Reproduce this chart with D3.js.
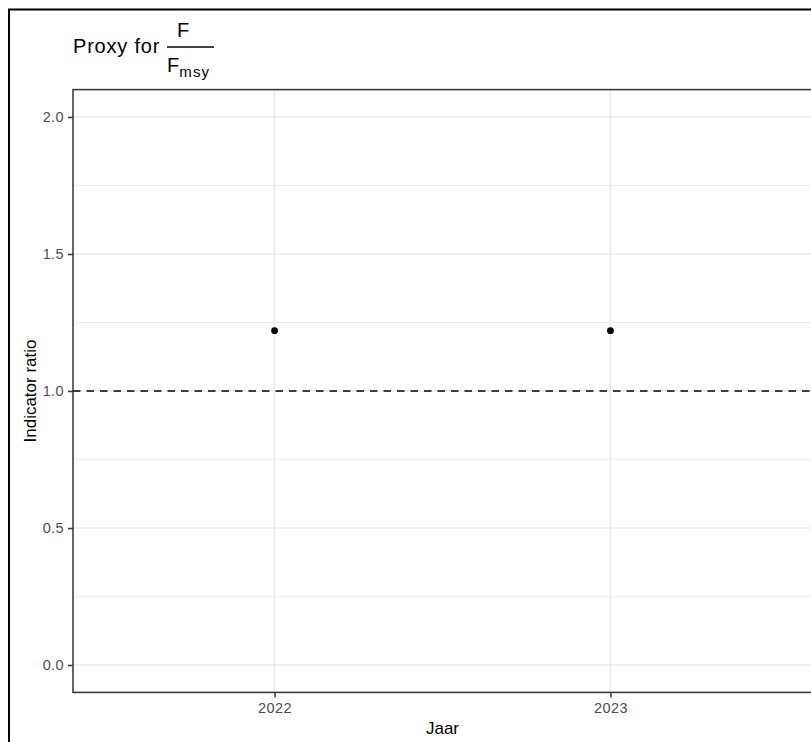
<!DOCTYPE html>
<html>
<head>
<meta charset="utf-8">
<script src="https://cdn.jsdelivr.net/npm/d3@7"></script>
<style>
  html, body { margin: 0; padding: 0; background: #fff; }
  svg { display: block; font-family: "Liberation Sans", Arial, sans-serif; }
</style>
</head>
<body>
<svg id="chart" width="811" height="742"></svg>
<script>
// Indicator series: F / Fmsy proxy per year
const years = ["2022", "2023"];
const ratios = [1.22, 1.22];
const referenceLevel = 1.0;
const yTicks = [0.0, 0.5, 1.0, 1.5, 2.0];
const yMinorTicks = [0.25, 0.75, 1.25, 1.75];
const yDomain = [0, 2];

const svg = d3.select("#chart");

const panel = { left: 73, right: 812, top: 89.6, bottom: 692.4 };

// discrete x scale, 0.6 padding on each side
const x = d3.scalePoint().domain(years).range([panel.left, panel.right]).padding(0.6);

// continuous y scale, 5% expansion either side
const span = yDomain[1] - yDomain[0];
const y = d3.scaleLinear()
  .domain([yDomain[0] - 0.05 * span, yDomain[1] + 0.05 * span])
  .range([panel.bottom, panel.top]);

// outer frame
svg.append("rect")
  .attr("x", 9).attr("y", 9.5).attr("width", 900).attr("height", 900)
  .attr("fill", "none").attr("stroke", "#000").attr("stroke-width", 2);

const g = svg.append("g");

// grid
g.selectAll("line.minor").data(yMinorTicks).join("line")
  .attr("x1", panel.left).attr("x2", panel.right)
  .attr("y1", d => y(d)).attr("y2", d => y(d))
  .attr("stroke", "#ebebeb").attr("stroke-width", 1);
g.selectAll("line.majory").data(yTicks).join("line")
  .attr("x1", panel.left).attr("x2", panel.right)
  .attr("y1", d => y(d)).attr("y2", d => y(d))
  .attr("stroke", "#ebebeb").attr("stroke-width", 1.5);
g.selectAll("line.majorx").data(years).join("line")
  .attr("y1", panel.top).attr("y2", panel.bottom)
  .attr("x1", d => x(d)).attr("x2", d => x(d))
  .attr("stroke", "#ebebeb").attr("stroke-width", 1.5);

// reference line at ratio 1
g.append("line")
  .attr("x1", panel.left).attr("x2", panel.right)
  .attr("y1", y(referenceLevel)).attr("y2", y(referenceLevel))
  .attr("stroke", "#000").attr("stroke-width", 1.5)
  .attr("stroke-dasharray", "7.5,6");

// points
g.selectAll("circle").data(years.map((yr, i) => ({ yr, v: ratios[i] }))).join("circle")
  .attr("cx", d => x(d.yr)).attr("cy", d => y(d.v))
  .attr("r", 3.4).attr("fill", "#000");

// panel border
g.append("rect")
  .attr("x", panel.left).attr("y", panel.top)
  .attr("width", panel.right - panel.left).attr("height", panel.bottom - panel.top)
  .attr("fill", "none").attr("stroke", "#333").attr("stroke-width", 1.5);

// axes
const yAxis = d3.axisLeft(y).tickValues(yTicks).tickFormat(d3.format(".1f")).tickSize(5).tickPadding(4);
const yAxisG = svg.append("g").attr("transform", `translate(${panel.left},0)`).call(yAxis);
const xAxis = d3.axisBottom(x).tickSize(5).tickPadding(5);
const xAxisG = svg.append("g").attr("transform", `translate(0,${panel.bottom})`).call(xAxis);

[yAxisG, xAxisG].forEach(a => {
  a.select(".domain").remove();
  a.selectAll(".tick line").attr("stroke", "#333").attr("stroke-width", 1.5);
  a.selectAll(".tick text").attr("fill", "#4d4d4d")
    .style("font-family", "'Liberation Sans', Arial, sans-serif").style("font-size", "14.5px")
    .style("letter-spacing", "0.4px");
});

// axis titles
svg.append("text")
  .attr("x", (panel.left + panel.right) / 2).attr("y", 734)
  .attr("text-anchor", "middle").attr("font-size", 17).attr("fill", "#000")
  .text("Jaar");
svg.append("text")
  .attr("transform", `translate(35.5,${(panel.top + panel.bottom) / 2}) rotate(-90)`)
  .attr("text-anchor", "middle").attr("font-size", 17).attr("fill", "#000")
  .text("Indicator ratio");

// title with fraction F / Fmsy
const title = svg.append("g");
title.append("text").attr("x", 73).attr("y", 53).attr("font-size", 20).attr("fill", "#000")
  .attr("letter-spacing", 0.8).text("Proxy for");
title.append("text").attr("x", 183).attr("y", 37).attr("text-anchor", "middle")
  .attr("font-size", 20).attr("fill", "#000").text("F");
title.append("line").attr("x1", 167).attr("x2", 214).attr("y1", 47).attr("y2", 47)
  .attr("stroke", "#000").attr("stroke-width", 1.5);
const den = title.append("text").attr("x", 167).attr("y", 72).attr("font-size", 20).attr("fill", "#000");
den.append("tspan").text("F");
den.append("tspan").attr("dy", 5).attr("font-size", 15).attr("letter-spacing", 1.2).text("msy");
</script>
</body>
</html>
